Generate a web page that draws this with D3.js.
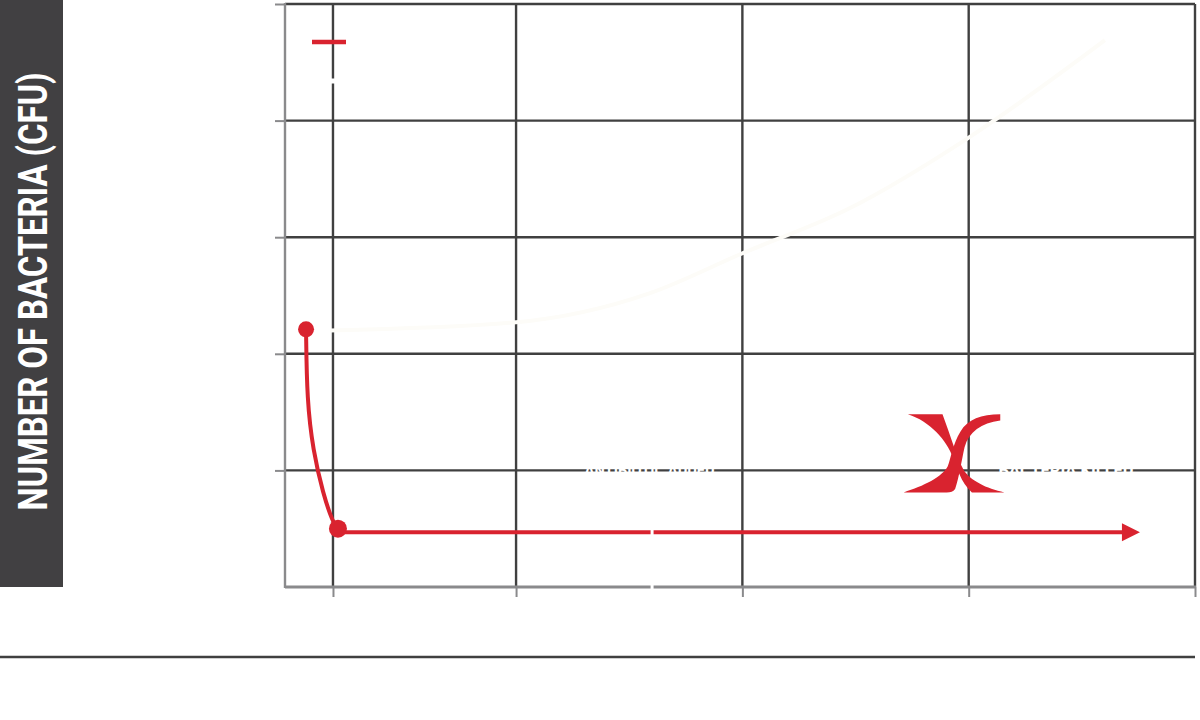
<!DOCTYPE html>
<html>
<head>
<meta charset="utf-8">
<script src="https://cdn.jsdelivr.net/npm/d3@7"></script>
<style>
    body { margin: 0; background: #fff; }
    svg { display: block; }
</style>
</head>
<body>
<div id="chart"></div>
<script>

// time in units (grid lines), bacteria count in units
var xGrid = [0.191, 1, 2, 3, 4];
var yGrid = [1, 2, 3, 4, 5];

// with antibiotic: sharp drop then flat
var killTime  = [0.072, 0.076, 0.103, 0.147, 0.191, 0.213];
var killCount = [2.21, 1.60, 1.17, 0.80, 0.55, 0.50];
var flatTime  = [0.213, 3.686];
var flatCount = [0.47, 0.47];

// without antibiotic: growth (drawn in white)
var growTime  = [0.178, 1.0, 1.592, 1.998, 2.476, 2.997, 3.602];
var growCount = [2.20, 2.27, 2.52, 2.86, 3.25, 3.85, 4.69];

var legendLabels = ["WITH ANTIBIOTIC", "WITHOUT ANTIBIOTIC"];
var notes = [
    {t: 1.59, c: 1.0, w: 130, text: "ANTIBIOTIC ADDED"},
    {t: 3.43, c: 1.0, w: 135, text: "BACTERIA KILLED"}
];
var crossAt = {t: 2.94, c: 1.0};
var splitAt = 1.601;

var yTitle = "NUMBER OF BACTERIA (CFU)";
var xTitle = "TIME";

var red = "#d9232f",
    grid = "#404040",
    axisGrey = "#8a8a8c";

function drawChart(mydiv) {
    var div = d3.select("#" + mydiv);
    var width = 1200, height = 720;
    var svg = div.append("svg").attr("width", width).attr("height", height);

    svg.margin = {top: 4, right: 5, bottom: 133, left: 285};

    var x = d3.scaleLinear().domain([-0.021, 4]).range([svg.margin.left, width - svg.margin.right]);
    var y = d3.scaleLinear().domain([0, 5]).range([height - svg.margin.bottom, svg.margin.top]);
    var x0 = x.domain()[0];

    // y title box
    svg.append("rect")
        .attr("x", 0).attr("y", 0)
        .attr("width", 63).attr("height", y(0))
        .style("fill", "#414042");

    svg.append("text")
        .attr("transform", "translate(47," + (y(0) / 2 - 2) + ") rotate(-90) scale(0.8,1)")
        .attr("text-anchor", "middle")
        .style("font-family", "Roboto, 'Liberation Sans', sans-serif")
        .style("font-weight", "bold")
        .style("font-size", "41px")
        .style("fill", "#fff")
        .text(yTitle);

    // grid
    svg.append("g").selectAll("line").data(yGrid).enter().append("line")
        .attr("x1", x(x0)).attr("x2", x(4))
        .attr("y1", function(d){ return y(d); })
        .attr("y2", function(d){ return y(d); })
        .style("stroke", grid).style("stroke-width", 2.4);

    svg.append("g").selectAll("line").data(xGrid).enter().append("line")
        .attr("x1", function(d){ return x(d); })
        .attr("x2", function(d){ return x(d); })
        .attr("y1", y(5)).attr("y2", y(0))
        .style("stroke", grid).style("stroke-width", 2.4);

    // axes
    var yAxis = d3.axisLeft(y).tickValues(yGrid).tickSize(10).tickFormat("");
    var gy = svg.append("g").attr("transform", "translate(" + x(x0) + ",0)").call(yAxis);
    gy.select(".domain").remove();
    gy.selectAll(".tick line").style("stroke", axisGrey).style("stroke-width", 2);

    var xAxis = d3.axisBottom(x).tickValues(xGrid).tickSize(10).tickFormat("");
    var gx = svg.append("g").attr("transform", "translate(0," + y(0) + ")").call(xAxis);
    gx.select(".domain").remove();
    gx.selectAll(".tick line").style("stroke", axisGrey).style("stroke-width", 2);

    svg.append("line")
        .attr("x1", x(x0)).attr("x2", x(x0))
        .attr("y1", y(5) - 1).attr("y2", y(0) + 1)
        .style("stroke", axisGrey).style("stroke-width", 2.4);
    svg.append("line")
        .attr("x1", x(x0)).attr("x2", x(4) + 1)
        .attr("y1", y(0)).attr("y2", y(0))
        .style("stroke", axisGrey).style("stroke-width", 3);

    // bottom rule
    svg.append("line")
        .attr("x1", 0).attr("x2", x(4))
        .attr("y1", 657).attr("y2", 657)
        .style("stroke", grid).style("stroke-width", 2.5);

    svg.append("text")
        .attr("x", (x(x0) + x(4)) / 2).attr("y", 630)
        .attr("text-anchor", "middle")
        .style("font-family", "Roboto, sans-serif")
        .style("font-weight", "bold")
        .style("font-size", "28px")
        .style("fill", "#fff")
        .text(xTitle);

    // growth curve, white
    var line = d3.line()
        .x(function(d){ return x(d[0]); })
        .y(function(d){ return y(d[1]); })
        .curve(d3.curveMonotoneX);

    var growData = d3.zip(growTime, growCount);
    svg.append("path").datum(growData)
        .attr("d", line)
        .style("fill", "none")
        .style("stroke", "#fdfcf8")
        .style("stroke-width", 4);

    // note texts, white
    svg.append("g").selectAll("text").data(notes).enter().append("text")
        .attr("x", function(d){ return x(d.t); })
        .attr("y", function(d){ return y(d.c) + 6; })
        .attr("text-anchor", "middle")
        .attr("textLength", function(d){ return d.w; })
        .attr("lengthAdjust", "spacingAndGlyphs")
        .style("font-family", "Roboto, sans-serif")
        .style("font-weight", "bold")
        .style("font-size", "17px")
        .style("fill", "#fff")
        .text(function(d){ return d.text; });

    // kill curve, red
    var killLine = d3.line()
        .x(function(d){ return x(d[0]); })
        .y(function(d){ return y(d[1]); })
        .curve(d3.curveBasis);

    var killData = d3.zip(killTime, killCount);
    svg.append("path").datum(killData)
        .attr("d", killLine)
        .style("fill", "none")
        .style("stroke", red)
        .style("stroke-width", 4);

    var flatData = d3.zip(flatTime, flatCount);
    svg.append("path").datum(flatData)
        .attr("d", d3.line().x(function(d){ return x(d[0]); }).y(function(d){ return y(d[1]); }))
        .style("fill", "none")
        .style("stroke", red)
        .style("stroke-width", 4);

    // white marker line splitting the red line and axis
    svg.append("line")
        .attr("x1", x(splitAt)).attr("x2", x(splitAt))
        .attr("y1", y(0.6)).attr("y2", y(0) + 4)
        .style("stroke", "#fff").style("stroke-width", 3);

    // arrow head
    var xe = x(flatTime[1]), ye = y(flatCount[1]);
    svg.append("path")
        .attr("d", "M" + (xe - 2) + "," + (ye - 9) + "L" + (xe + 16) + "," + ye + "L" + (xe - 2) + "," + (ye + 9) + "Z")
        .style("fill", red);

    // dots
    svg.append("circle")
        .attr("cx", x(killTime[0])).attr("cy", y(killCount[0])).attr("r", 8)
        .style("fill", red);
    svg.append("circle")
        .attr("cx", x(killTime[killTime.length - 1])).attr("cy", y(killCount[killCount.length - 1])).attr("r", 9)
        .style("fill", red);

    // red cross marker
    var cx = x(crossAt.t), cy = y(crossAt.c) - 7.5;
    var cross = svg.append("g").attr("transform", "translate(" + cx + "," + cy + ") scale(1.05,0.867)");
    cross.append("path")
        .attr("d", "M-45,-56 L-12,-56 C-4,-30 2,-5 8,8 C14,20 30,30 47,34 L16,34 C5,22 2,5 -2,-6 C-8,-26 -24,-48 -45,-56 Z")
        .style("fill", red);
    cross.append("path")
        .attr("d", "M43,-56 L43,-49 C25,-46 13,-36 9,-18 C6,-2 4,16 0,30 C-2,33 -4,34 -8,34 L-49,34 C-30,27 -12,16 -7,4 C-4,-6 -2,-22 5,-36 C12,-50 25,-56 43,-56 Z")
        .style("fill", red);

    // legend
    var legend = svg.append("g").attr("transform", "translate(" + (x(x0) + 27) + ",42)");
    legend.append("line").attr("x1", 0).attr("x2", 34).attr("y1", 0).attr("y2", 0)
        .style("stroke", red).style("stroke-width", 4.5);
    legend.append("line").attr("x1", 0).attr("x2", 34).attr("y1", 39).attr("y2", 39)
        .style("stroke", "#fff").style("stroke-width", 5);
    legend.selectAll("text").data(legendLabels).enter().append("text")
        .attr("x", 44)
        .attr("y", function(d, i){ return i * 39 + 6; })
        .attr("textLength", function(d, i){ return i ? 128 : 108; })
        .attr("lengthAdjust", "spacingAndGlyphs")
        .style("font-family", "Roboto, sans-serif")
        .style("font-weight", "bold")
        .style("font-size", "16px")
        .style("fill", "#fff")
        .text(function(d){ return d; });
}

drawChart("chart");

</script>
</body>
</html>
